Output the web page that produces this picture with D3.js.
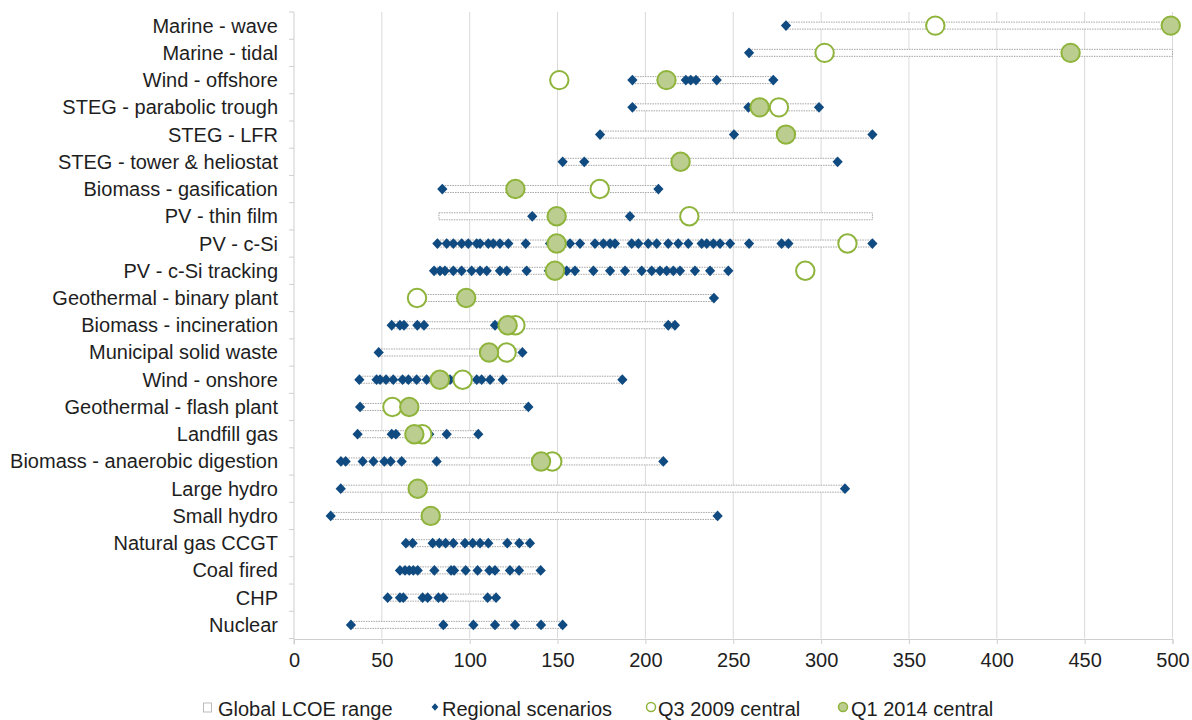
<!DOCTYPE html>
<html>
<head>
<meta charset="utf-8">
<script src="https://cdn.jsdelivr.net/npm/d3@7"></script>
<style>
  html, body { margin: 0; padding: 0; background: #fff; }
  svg { display: block; font-family: "Liberation Sans", Arial, Helvetica, sans-serif; }
</style>
</head>
<body>
<svg id="chart" width="1192" height="720"></svg>
<script>
const categories = [
  "Marine - wave", "Marine - tidal", "Wind - offshore", "STEG - parabolic trough",
  "STEG - LFR", "STEG - tower & heliostat", "Biomass - gasification", "PV - thin film",
  "PV - c-Si", "PV - c-Si tracking", "Geothermal - binary plant", "Biomass - incineration",
  "Municipal solid waste", "Wind - onshore", "Geothermal - flash plant", "Landfill gas",
  "Biomass - anaerobic digestion", "Large hydro", "Small hydro", "Natural gas CCGT",
  "Coal fired", "CHP", "Nuclear"
];

const rangeLow  = [280, 259, 192.6, 192.6, 174.2, 152.9, 84.4, 82.5, 81.6, 79.7, 70.4, 55.6, 48.2, 37.2, 37.6, 36.2, 26.7, 26.6, 20.9, 63.7, 60.3, 53.3, 32.4];
const rangeHigh = [500, 500, 272.8, 298.8, 329.2, 309.4, 207.4, 329.2, 329.2, 247.2, 239, 216.8, 130, 186.9, 133.4, 104.9, 210.2, 313.6, 241.1, 134.3, 140.4, 115, 152.9];

const regional = [
  [280],
  [259],
  [192.6, 223, 225.8, 228.8, 240.6, 272.8],
  [192.6, 258.6, 298.8],
  [174.2, 250.4, 329.2],
  [152.9, 165.2, 309.4],
  [84.4, 207.4],
  [135.6, 191.2],
  [81.6, 86.9, 90.7, 95.4, 99.2, 104, 105.9, 110.6, 113.4, 117.2, 122, 131.9, 145.7, 152, 157.1, 162.8, 171.3, 176.1, 179.9, 182.7, 192.2, 196, 201.6, 206.4, 213, 218.7, 224.4, 232, 234.9, 238.7, 242.5, 248.2, 259, 277.5, 281.4, 329.2],
  [79.7, 83.1, 85.9, 90.7, 95.4, 101.1, 105.9, 109.7, 117.2, 121.1, 132.4, 145, 155.2, 159.9, 170.4, 179.9, 188.4, 197.9, 203.6, 208.3, 212.1, 215.9, 219.7, 228.2, 236.8, 247.2],
  [239],
  [55.6, 60.3, 62.6, 70.2, 74, 114.4, 213, 216.8],
  [48.2, 130],
  [37.2, 47, 49, 52.4, 56.5, 61.8, 65.1, 69.8, 75.5, 88.8, 104, 106.8, 111.6, 118.8, 186.9],
  [37.6, 133.4],
  [36.2, 55.6, 58, 77, 86.9, 104.9],
  [26.7, 29.4, 39.1, 45.2, 51.4, 55, 61.3, 81.2, 210.2],
  [26.6, 313.6],
  [20.9, 241.1],
  [63.7, 67.5, 78.9, 82.7, 86.3, 90.7, 97.3, 101.7, 105.9, 110.6, 121.4, 128.2, 134.3],
  [60.3, 63.2, 65.6, 67.9, 70.4, 79.9, 89.4, 91.1, 97.7, 104.5, 111.2, 114.4, 122.9, 128.1, 140.4],
  [53.3, 60.3, 62.2, 73.2, 76.1, 82.2, 85, 110.2, 115],
  [32.4, 85, 102.1, 114.4, 125.8, 140.6, 152.9]
];

const q3_2009 = [365, 302, 151, 276, null, null, 174, 225, 315, 291, 70, 126, 121, 96, 56, 73, 147, null, null, null, null, null, null];
const q1_2014 = [499, 442, 212, 265, 280, 220, 126, 149.5, 149.5, 148.5, 98, 121.6, 111, 83, 65.6, 68.5, 140.6, 70.4, 77.8, null, null, null, null];

const xTicks = [0, 50, 100, 150, 200, 250, 300, 350, 400, 450, 500];
const legendLabels = ["Global LCOE range", "Regional scenarios", "Q3 2009 central", "Q1 2014 central"];

(function () {
const svg = d3.select("#chart");
const mLeft = 294, mRight = 1172.5, mTop = 12, mBottom = 638.5;

const x = d3.scaleLinear().domain([0, 500]).range([mLeft, mRight]);
const y = d3.scaleBand().domain(categories).range([mTop, mBottom]).paddingInner(0).paddingOuter(0);

const navy = "#0f4a80";
const greenStroke = "#8fb43c";
const greenFill = "#bccd90";
const gridColor = "#d9d9d9";
const axisColor = "#cfcfcf";
const textColor = "#1e1e1e";
const fontSize = "20px";

// gridlines
svg.append("g").selectAll("line").data(xTicks.filter(t => t > 0)).join("line")
  .attr("x1", d => x(d)).attr("x2", d => x(d))
  .attr("y1", mTop).attr("y2", mBottom)
  .attr("stroke", gridColor).attr("stroke-width", 1);

// x axis
const xAxis = svg.append("g").attr("transform", `translate(0,${mBottom + 0.5})`)
  .call(d3.axisBottom(x).tickValues(xTicks).tickSize(5).tickPadding(9).tickFormat(d3.format("d")));
xAxis.select(".domain").attr("stroke", axisColor);
xAxis.selectAll(".tick line").attr("stroke", axisColor);
xAxis.selectAll(".tick text").attr("fill", textColor).style("font-size", fontSize)
  .style("font-family", "'Liberation Sans', Arial, sans-serif");

// y axis (ticks at category boundaries)
const yAxisG = svg.append("g").attr("transform", `translate(${mLeft},0)`);
yAxisG.append("line").attr("x1", 0).attr("x2", 0).attr("y1", mTop).attr("y2", mBottom + 6)
  .attr("stroke", axisColor);
const boundaries = categories.map(c => y(c)).concat([mBottom]);
yAxisG.selectAll("line.bt").data(boundaries).join("line").attr("class", "bt")
  .attr("x1", -5).attr("x2", 0).attr("y1", d => d).attr("y2", d => d)
  .attr("stroke", axisColor);
yAxisG.selectAll("text").data(categories).join("text")
  .attr("x", -16).attr("y", d => y(d) + y.bandwidth() / 2)
  .attr("dy", "0.35em").attr("text-anchor", "end")
  .attr("fill", textColor).style("font-size", fontSize)
  .text(d => d);

// range bars
const barH = 7;
svg.append("g").selectAll("rect").data(categories).join("rect")
  .attr("x", (d, i) => x(rangeLow[i]))
  .attr("width", (d, i) => x(rangeHigh[i]) - x(rangeLow[i]))
  .attr("y", d => y(d) + y.bandwidth() / 2 - barH / 2)
  .attr("height", barH)
  .attr("fill", "#fff")
  .attr("stroke", "#a5a5a5").attr("stroke-width", 1)
  .attr("stroke-dasharray", "1.5,1");

// diamonds
const diamondPath = d3.symbol().type(d3.symbolSquare).size(58)();
const pts = [];
regional.forEach((arr, i) => arr.forEach(v => pts.push({ cat: categories[i], v })));
svg.append("g").selectAll("path").data(pts).join("path")
  .attr("d", diamondPath)
  .attr("transform", d => `translate(${x(d.v)},${y(d.cat) + y.bandwidth() / 2}) scale(0.95,1) rotate(45)`)
  .attr("fill", navy);

// Q3 2009 open circles
const r = 9.2;
svg.append("g").selectAll("circle")
  .data(categories.map((c, i) => ({ cat: c, v: q3_2009[i] })).filter(d => d.v != null))
  .join("circle")
  .attr("cx", d => x(d.v)).attr("cy", d => y(d.cat) + y.bandwidth() / 2)
  .attr("r", r).attr("fill", "#fff").attr("stroke", greenStroke).attr("stroke-width", 2);

// Q1 2014 filled circles
svg.append("g").selectAll("circle")
  .data(categories.map((c, i) => ({ cat: c, v: q1_2014[i] })).filter(d => d.v != null))
  .join("circle")
  .attr("cx", d => x(d.v)).attr("cy", d => y(d.cat) + y.bandwidth() / 2)
  .attr("r", r).attr("fill", greenFill).attr("stroke", greenStroke).attr("stroke-width", 2);

// legend
const legY = 709;
const legItems = [
  { label: legendLabels[0], mx: 208, tx: 218, type: "rect" },
  { label: legendLabels[1], mx: 435, tx: 442, type: "diamond" },
  { label: legendLabels[2], mx: 651, tx: 658, type: "open" },
  { label: legendLabels[3], mx: 843, tx: 851, type: "filled" }
];
const leg = svg.append("g");
legItems.forEach(it => {
  if (it.type === "rect") {
    leg.append("rect").attr("x", it.mx - 4.5).attr("y", legY - 6).attr("width", 8).attr("height", 9)
      .attr("fill", "#fff").attr("stroke", "#bbb").attr("stroke-width", 1);
  } else if (it.type === "diamond") {
    leg.append("path").attr("d", d3.symbol().type(d3.symbolSquare).size(28)())
      .attr("transform", `translate(${it.mx},${legY - 2}) scale(0.9,1) rotate(45)`).attr("fill", navy);
  } else if (it.type === "open") {
    leg.append("circle").attr("cx", it.mx).attr("cy", legY - 2).attr("r", 4.5)
      .attr("fill", "#fff").attr("stroke", greenStroke).attr("stroke-width", 1.5);
  } else {
    leg.append("circle").attr("cx", it.mx).attr("cy", legY - 2).attr("r", 4.5)
      .attr("fill", greenFill).attr("stroke", greenStroke).attr("stroke-width", 1.5);
  }
  leg.append("text").attr("x", it.tx).attr("y", legY).attr("dy", "0.35em")
    .attr("fill", textColor).style("font-size", fontSize).text(it.label);
});
})();
</script>
</body>
</html>
